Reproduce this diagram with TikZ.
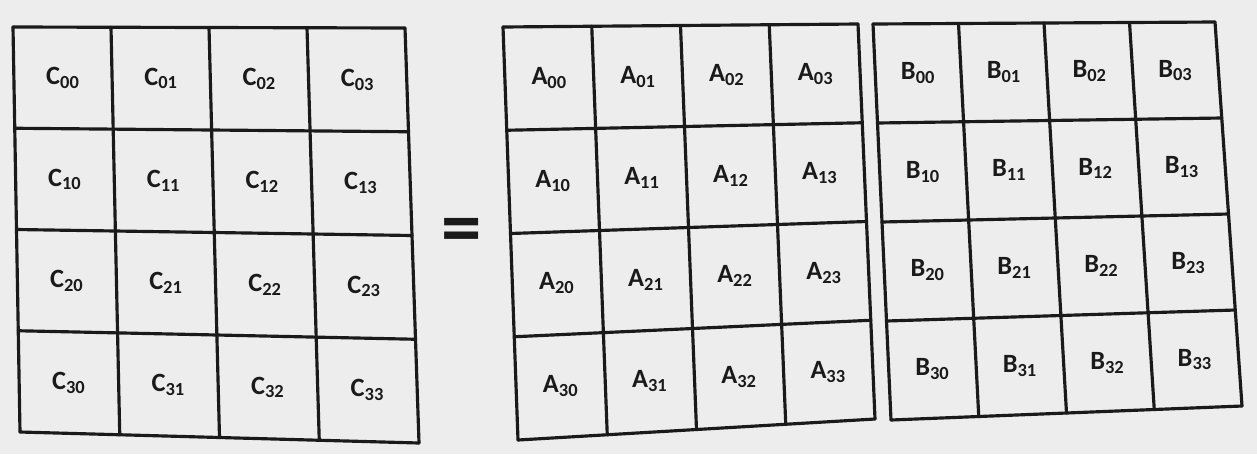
\documentclass[tikz,border=0pt]{standalone}
\usepackage{fontspec}
\setmainfont{Carlito}
\usetikzlibrary{calc}
\definecolor{paper}{HTML}{EDEDED}
\definecolor{ink}{HTML}{1A1A1A}
\tikzset{
	gridline/.style={draw=ink, line width=1.8pt, line cap=round, line join=round},
	entry/.style={font=\fontsize{15}{15}\selectfont\bfseries, text=ink, inner sep=0pt},
}
\begin{document}
\begin{tikzpicture}[x=0.02cm, y=-0.02cm]
	\useasboundingbox[fill=paper] (0,0) rectangle (1257,454);
	\coordinate (c-tl) at (13,27);
	\coordinate (c-tr) at (405,28);
	\coordinate (c-br) at (419,443);
	\coordinate (c-bl) at (20,432);
	\coordinate (a-tl) at (503,27);
	\coordinate (a-tr) at (858,24);
	\coordinate (a-br) at (875,419);
	\coordinate (a-bl) at (518,440);
	\coordinate (b-tl) at (873,24);
	\coordinate (b-tr) at (1215,22);
	\coordinate (b-br) at (1242,406);
	\coordinate (b-bl) at (891,420);
	\foreach \nm/\lt in {c/C, a/A, b/B} {
		\foreach \k in {0,...,4} {
			\draw[gridline] ($(\nm-tl)!\k/4!(\nm-tr)$) -- ($(\nm-bl)!\k/4!(\nm-br)$);
			\draw[gridline] ($(\nm-tl)!\k/4!(\nm-bl)$) -- ($(\nm-tr)!\k/4!(\nm-br)$);
		}
		\foreach \i in {0,...,3} {
			\foreach \j in {0,...,3} {
				\coordinate (\nm-top) at ($(\nm-tl)!{(\j+0.5)/4}!(\nm-tr)$);
				\coordinate (\nm-bot) at ($(\nm-bl)!{(\j+0.5)/4}!(\nm-br)$);
				\node[entry] (\nm\i\j) at ($(\nm-top)!{(\i+0.5)/4}!(\nm-bot)$) {\lt\textsubscript{\i\j}};
			}
		}
	}
	\node[font=\fontsize{46}{46}\selectfont\bfseries, text=ink, inner sep=0pt] (eq) at (462,236) {=};
\end{tikzpicture}
\end{document}
